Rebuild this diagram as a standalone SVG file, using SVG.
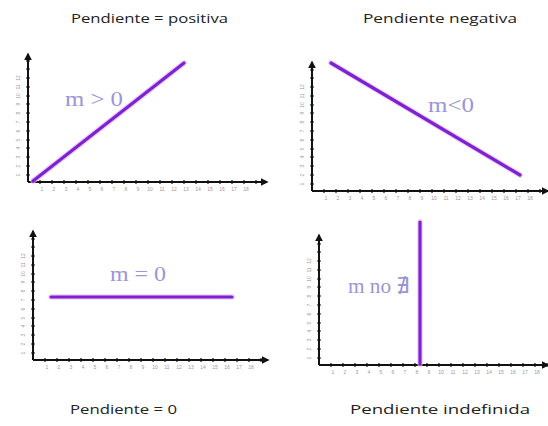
<svg xmlns="http://www.w3.org/2000/svg" xmlns:xlink="http://www.w3.org/1999/xlink" width="548" height="426" viewBox="0 0 548 426">
<style>
.title{font-family:"Open Sans","Liberation Sans",sans-serif;font-size:13.5px;fill:#222}
.axis{stroke:#111;stroke-width:2;fill:none}
.tick{stroke:#111;stroke-width:1.2}
.tl{font-family:"Liberation Sans",sans-serif;font-size:5px;fill:#9a9a9a;text-anchor:middle}
.line{stroke:#7d22d3;stroke-width:3.2;stroke-linecap:round;fill:none}
.glow{stroke:#e8b8f0;stroke-width:5.5;stroke-linecap:round;fill:none;opacity:0.7}
.m{font-family:"Liberation Serif",serif;font-size:22px;fill:#9c95d8}
</style>
<defs>
<marker id="ah" viewBox="0 0 10 10" refX="8" refY="5" markerWidth="4" markerHeight="4" orient="auto">
<path d="M0,0 L10,5 L0,10 z" fill="#111"/>
</marker>
<g id="xt">
<path class="tick" d="M12,-2v4M24,-2v4M36,-2v4M48,-2v4M60,-2v4M72,-2v4M84,-2v4M96,-2v4M108,-2v4M120,-2v4M132,-2v4M144,-2v4M156,-2v4M168,-2v4M180,-2v4M192,-2v4M204,-2v4M216,-2v4M228,-2v4"/>
<text class="tl" y="9"><tspan x="14">1</tspan><tspan x="26">2</tspan><tspan x="38">3</tspan><tspan x="50">4</tspan><tspan x="62">5</tspan><tspan x="74">6</tspan><tspan x="86">7</tspan><tspan x="98">8</tspan><tspan x="110">9</tspan><tspan x="122">10</tspan><tspan x="134">11</tspan><tspan x="146">12</tspan><tspan x="158">13</tspan><tspan x="170">14</tspan><tspan x="182">15</tspan><tspan x="194">16</tspan><tspan x="206">17</tspan><tspan x="218">18</tspan></text>
</g>
<g id="yt">
<path class="tick" d="M-2,-7h4M-2,-16h4M-2,-25h4M-2,-34h4M-2,-42h4M-2,-51h4M-2,-60h4M-2,-69h4M-2,-78h4M-2,-86h4M-2,-95h4M-2,-104h4M-2,-113h4M-2,-121h4"/>
<g class="tl">
<text transform="translate(-8,-7) rotate(-90)">1</text>
<text transform="translate(-8,-16) rotate(-90)">2</text>
<text transform="translate(-8,-25) rotate(-90)">3</text>
<text transform="translate(-8,-34) rotate(-90)">4</text>
<text transform="translate(-8,-42) rotate(-90)">5</text>
<text transform="translate(-8,-51) rotate(-90)">6</text>
<text transform="translate(-8,-60) rotate(-90)">7</text>
<text transform="translate(-8,-69) rotate(-90)">8</text>
<text transform="translate(-8,-78) rotate(-90)">9</text>
<text transform="translate(-8,-86) rotate(-90)">10</text>
<text transform="translate(-8,-95) rotate(-90)">11</text>
<text transform="translate(-8,-104) rotate(-90)">12</text>
</g>
</g>
</defs>
<rect width="548" height="426" fill="#fff"/>

<g id="titles">
<text class="title" x="71" y="23" textLength="157" lengthAdjust="spacingAndGlyphs">Pendiente = positiva</text>
<text class="title" x="363" y="23" textLength="154" lengthAdjust="spacingAndGlyphs">Pendiente negativa</text>
<text class="title" x="70" y="414" textLength="107" lengthAdjust="spacingAndGlyphs">Pendiente = 0</text>
<text class="title" x="350" y="414" textLength="180" lengthAdjust="spacingAndGlyphs">Pendiente indefinida</text>
</g>

<g id="panel-positive">
<path class="axis" d="M28,182 V54" marker-end="url(#ah)"/>
<path class="axis" d="M28,182 H267" marker-end="url(#ah)"/>
<use xlink:href="#xt" href="#xt" transform="translate(28,182)"/>
<use xlink:href="#yt" href="#yt" transform="translate(28,182)"/>
<line class="glow" x1="33" y1="181" x2="184" y2="63"/>
<line class="line" x1="33" y1="181" x2="184" y2="63"/>
<text class="m" x="65" y="106" textLength="58" lengthAdjust="spacingAndGlyphs">m &gt; 0</text>
</g>

<g id="panel-negative">
<path class="axis" d="M312,191 V62" marker-end="url(#ah)"/>
<path class="axis" d="M312,191 H548" marker-end="url(#ah)"/>
<use xlink:href="#xt" href="#xt" transform="translate(312,191)"/>
<use xlink:href="#yt" href="#yt" transform="translate(312,191)"/>
<line class="glow" x1="331" y1="63" x2="520" y2="175"/>
<line class="line" x1="331" y1="63" x2="520" y2="175"/>
<text class="m" x="428" y="112" textLength="46" lengthAdjust="spacingAndGlyphs">m&lt;0</text>
</g>

<g id="panel-zero">
<path class="axis" d="M33,360 V231" marker-end="url(#ah)"/>
<path class="axis" d="M33,360 H268" marker-end="url(#ah)"/>
<use xlink:href="#xt" href="#xt" transform="translate(33,360)"/>
<use xlink:href="#yt" href="#yt" transform="translate(33,360)"/>
<line class="glow" x1="51" y1="297" x2="232" y2="297"/>
<line class="line" x1="51" y1="297" x2="232" y2="297"/>
<text class="m" x="110" y="281" textLength="56" lengthAdjust="spacingAndGlyphs">m = 0</text>
</g>

<g id="panel-undefined">
<path class="axis" d="M319,365 V235" marker-end="url(#ah)"/>
<path class="axis" d="M319,365 H548" marker-end="url(#ah)"/>
<use xlink:href="#xt" href="#xt" transform="translate(319,365)"/>
<use xlink:href="#yt" href="#yt" transform="translate(319,365)"/>
<line class="glow" x1="420" y1="222" x2="420" y2="364"/>
<line class="line" x1="420" y1="222" x2="420" y2="364"/>
<text class="m" x="348" y="293" textLength="62" lengthAdjust="spacingAndGlyphs">m no ∄</text>
</g>
</svg>
